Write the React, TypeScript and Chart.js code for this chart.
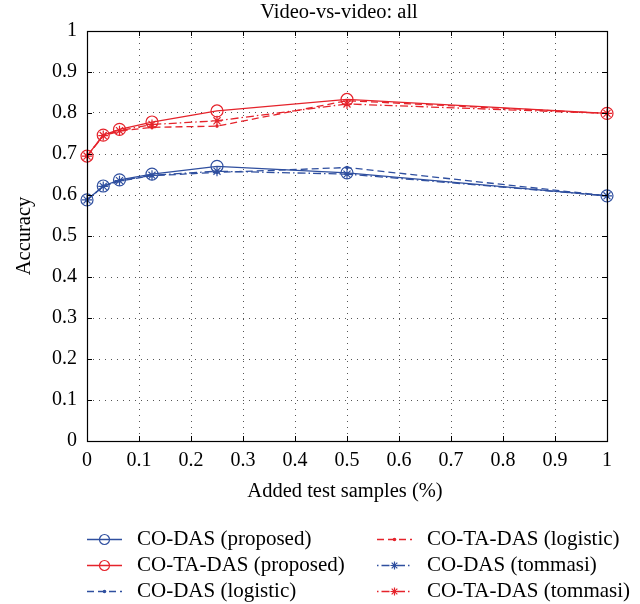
import React, { useEffect, useRef } from "react";
import { Chart, registerables } from "chart.js";

Chart.register(...registerables);

// ---------- data ----------
const xValues = [0, 0.03125, 0.0625, 0.125, 0.25, 0.5, 1];
const coDasProposed = [0.588, 0.622, 0.637, 0.651, 0.67, 0.654, 0.598];
const coTaDasProposed = [0.695, 0.746, 0.76, 0.778, 0.805, 0.833, 0.799];
const coDasLogistic = [0.588, 0.621, 0.634, 0.647, 0.655, 0.667, 0.598];
const coTaDasLogistic = [0.695, 0.744, 0.756, 0.765, 0.768, 0.83, 0.799];
const coDasTommasi = [0.588, 0.621, 0.635, 0.648, 0.658, 0.651, 0.598];
const coTaDasTommasi = [0.695, 0.745, 0.757, 0.772, 0.781, 0.822, 0.799];

const xTickValues = [0, 0.1, 0.2, 0.3, 0.4, 0.5, 0.6, 0.7, 0.8, 0.9, 1];
const xTickLabels = ["0", "0.1", "0.2", "0.3", "0.4", "0.5", "0.6", "0.7", "0.8", "0.9", "1"];
const yTickValues = [0, 0.1, 0.2, 0.3, 0.4, 0.5, 0.6, 0.7, 0.8, 0.9, 1];
const yTickLabels = ["0", "0.1", "0.2", "0.3", "0.4", "0.5", "0.6", "0.7", "0.8", "0.9", "1"];

const seriesLabels = [
  "CO-DAS (proposed)",
  "CO-TA-DAS (proposed)",
  "CO-DAS (logistic)",
  "CO-TA-DAS (logistic)",
  "CO-DAS (tommasi)",
  "CO-TA-DAS (tommasi)",
];

const titleText = "Video-vs-video: all";
const xTitle = "Added test samples (%)";
const yTitle = "Accuracy";

// ---------- styles ----------
const BLUE = "#2f4f9f";
const RED = "#e5232b";
const FONT = "'Liberation Serif', 'Times New Roman', serif";
const DASH = [7, 4];
const DASHDOT = [8, 3, 1.5, 3];

type Marker = "circle" | "dot" | "star";

const seriesStyles: { color: string; dash: number[]; marker: Marker }[] = [
  { color: BLUE, dash: [], marker: "circle" },
  { color: RED, dash: [], marker: "circle" },
  { color: BLUE, dash: DASH, marker: "dot" },
  { color: RED, dash: DASH, marker: "dot" },
  { color: BLUE, dash: DASHDOT, marker: "star" },
  { color: RED, dash: DASHDOT, marker: "star" },
];
const seriesValues = [
  coDasProposed,
  coTaDasProposed,
  coDasLogistic,
  coTaDasLogistic,
  coDasTommasi,
  coTaDasTommasi,
];

function drawMarker(ctx: CanvasRenderingContext2D, m: Marker, x: number, y: number, color: string, r = 6) {
  ctx.save();
  ctx.setLineDash([]);
  ctx.strokeStyle = color;
  ctx.fillStyle = color;
  ctx.lineWidth = 1.2;
  ctx.beginPath();
  if (m === "circle") {
    ctx.arc(x, y, r, 0, Math.PI * 2);
    ctx.stroke();
  } else if (m === "dot") {
    ctx.arc(x, y, 1.8, 0, Math.PI * 2);
    ctx.fill();
  } else {
    const s = r - 1;
    const d = s * Math.SQRT1_2;
    ctx.moveTo(x - s, y);
    ctx.lineTo(x + s, y);
    ctx.moveTo(x, y - s);
    ctx.lineTo(x, y + s);
    ctx.moveTo(x - d, y - d);
    ctx.lineTo(x + d, y + d);
    ctx.moveTo(x - d, y + d);
    ctx.lineTo(x + d, y - d);
    ctx.stroke();
  }
  ctx.restore();
}

const decorPlugin = {
  id: "decor",
  afterDraw(chart: any) {
    const ctx: CanvasRenderingContext2D = chart.ctx;
    const { left, right, top, bottom } = chart.chartArea;
    const xs = chart.scales.x;
    const ys = chart.scales.y;
    ctx.save();
    // box
    ctx.setLineDash([]);
    ctx.strokeStyle = "#000";
    ctx.lineWidth = 1.2;
    ctx.strokeRect(Math.round(left) + 0.5, Math.round(top) + 0.5, Math.round(right - left), Math.round(bottom - top));
    // inward ticks
    const tl = 5;
    ctx.lineWidth = 1;
    ctx.beginPath();
    xTickValues.forEach((v) => {
      const px = Math.round(xs.getPixelForValue(v)) + 0.5;
      ctx.moveTo(px, bottom);
      ctx.lineTo(px, bottom - tl);
      ctx.moveTo(px, top);
      ctx.lineTo(px, top + tl);
    });
    yTickValues.forEach((v) => {
      const py = Math.round(ys.getPixelForValue(v)) + 0.5;
      ctx.moveTo(left, py);
      ctx.lineTo(left + tl, py);
      ctx.moveTo(right, py);
      ctx.lineTo(right - tl, py);
    });
    ctx.stroke();

    // texts
    ctx.fillStyle = "#000";
    ctx.textAlign = "center";
    ctx.textBaseline = "middle";
    ctx.font = `20.5px ${FONT}`;
    ctx.fillText(titleText, 339, 13);
    ctx.fillText(xTitle, (left + right) / 2 - 2, 492);
    ctx.save();
    ctx.translate(25, (top + bottom) / 2);
    ctx.rotate(-Math.PI / 2);
    ctx.fillText(yTitle, 0, 0);
    ctx.restore();

    // legend (two columns, column-major)
    const rows = [539, 565, 591];
    const cols = [
      { x0: 87, x1: 122, tx: 137 },
      { x0: 377, x1: 412, tx: 427 },
    ];
    chart.data.datasets.forEach((ds: any, i: number) => {
      const col = cols[Math.floor(i / 3)];
      const y = rows[i % 3] + 0.5;
      const st = seriesStyles[i];
      ctx.save();
      ctx.strokeStyle = ds.borderColor;
      ctx.lineWidth = ds.borderWidth;
      ctx.setLineDash(st.dash);
      if (st.dash === DASHDOT) ctx.lineDashOffset = 11;
      ctx.beginPath();
      ctx.moveTo(col.x0, y);
      ctx.lineTo(col.x1, y);
      ctx.stroke();
      ctx.restore();
      drawMarker(ctx, st.marker, (col.x0 + col.x1) / 2, y, st.color, 5);
      ctx.textAlign = "left";
      ctx.textBaseline = "middle";
      ctx.fillStyle = "#000";
      ctx.font = `21px ${FONT}`;
      ctx.fillText(ds.label, col.tx, rows[i % 3]);
    });
    ctx.restore();
  },
};

const markerPlugin = {
  id: "markers",
  afterDatasetsDraw(chart: any) {
    const ctx: CanvasRenderingContext2D = chart.ctx;
    chart.data.datasets.forEach((ds: any, i: number) => {
      const meta = chart.getDatasetMeta(i);
      meta.data.forEach((pt: any) => {
        drawMarker(ctx, seriesStyles[i].marker, pt.x, pt.y, seriesStyles[i].color);
      });
    });
  },
};

export default function App() {
  const canvasRef = useRef<HTMLCanvasElement | null>(null);

  useEffect(() => {
    if (!canvasRef.current) return;
    const datasets = seriesLabels.map((label, i) => ({
      label,
      data: xValues.map((x, j) => ({ x, y: seriesValues[i][j] })),
      borderColor: seriesStyles[i].color,
      backgroundColor: seriesStyles[i].color,
      borderWidth: 1.3,
      borderDash: seriesStyles[i].dash,
      pointRadius: 0,
      pointHoverRadius: 0,
      fill: false,
      tension: 0,
      clip: false as any,
    }));
    const tickFont = { family: FONT, size: 20 };
    const chart = new Chart(canvasRef.current, {
      type: "line",
      data: { datasets },
      plugins: [markerPlugin, decorPlugin],
      options: {
        animation: false,
        responsive: false,
        events: [],
        layout: { padding: { left: 0, top: 31, right: 33, bottom: 0 } },
        plugins: {
          legend: { display: false },
          title: { display: false },
          tooltip: { enabled: false },
        },
        scales: {
          x: {
            type: "linear",
            min: 0,
            max: 1,
            afterBuildTicks: (s: any) => {
              s.ticks = xTickValues.map((v) => ({ value: v }));
            },
            afterFit: (s: any) => {
              s.height = 163;
            },
            ticks: {
              font: tickFont,
              color: "#000",
              padding: 8,
              maxRotation: 0,
              autoSkip: false,
              callback: (v: any) => xTickLabels[xTickValues.indexOf(Number(v))] ?? "",
            },
            grid: { color: "#555", lineWidth: 1, drawTicks: false },
            border: { display: false, dash: [1, 5] },
          },
          y: {
            type: "linear",
            min: 0,
            max: 1,
            afterBuildTicks: (s: any) => {
              s.ticks = yTickValues.map((v) => ({ value: v }));
            },
            afterFit: (s: any) => {
              s.width = 87;
            },
            ticks: {
              font: tickFont,
              color: "#000",
              padding: 10,
              autoSkip: false,
              callback: (v: any) => yTickLabels[yTickValues.indexOf(Number(v))] ?? "",
            },
            grid: { color: "#555", lineWidth: 1, drawTicks: false },
            border: { display: false, dash: [1, 5] },
          },
        },
      } as any,
    });
    return () => chart.destroy();
  }, []);

  return (
    <div style={{ position: "fixed", left: 0, top: 0, width: 640, height: 604, background: "#fff" }}>
      <canvas ref={canvasRef} width={640} height={604} style={{ display: "block" }} />
    </div>
  );
}
